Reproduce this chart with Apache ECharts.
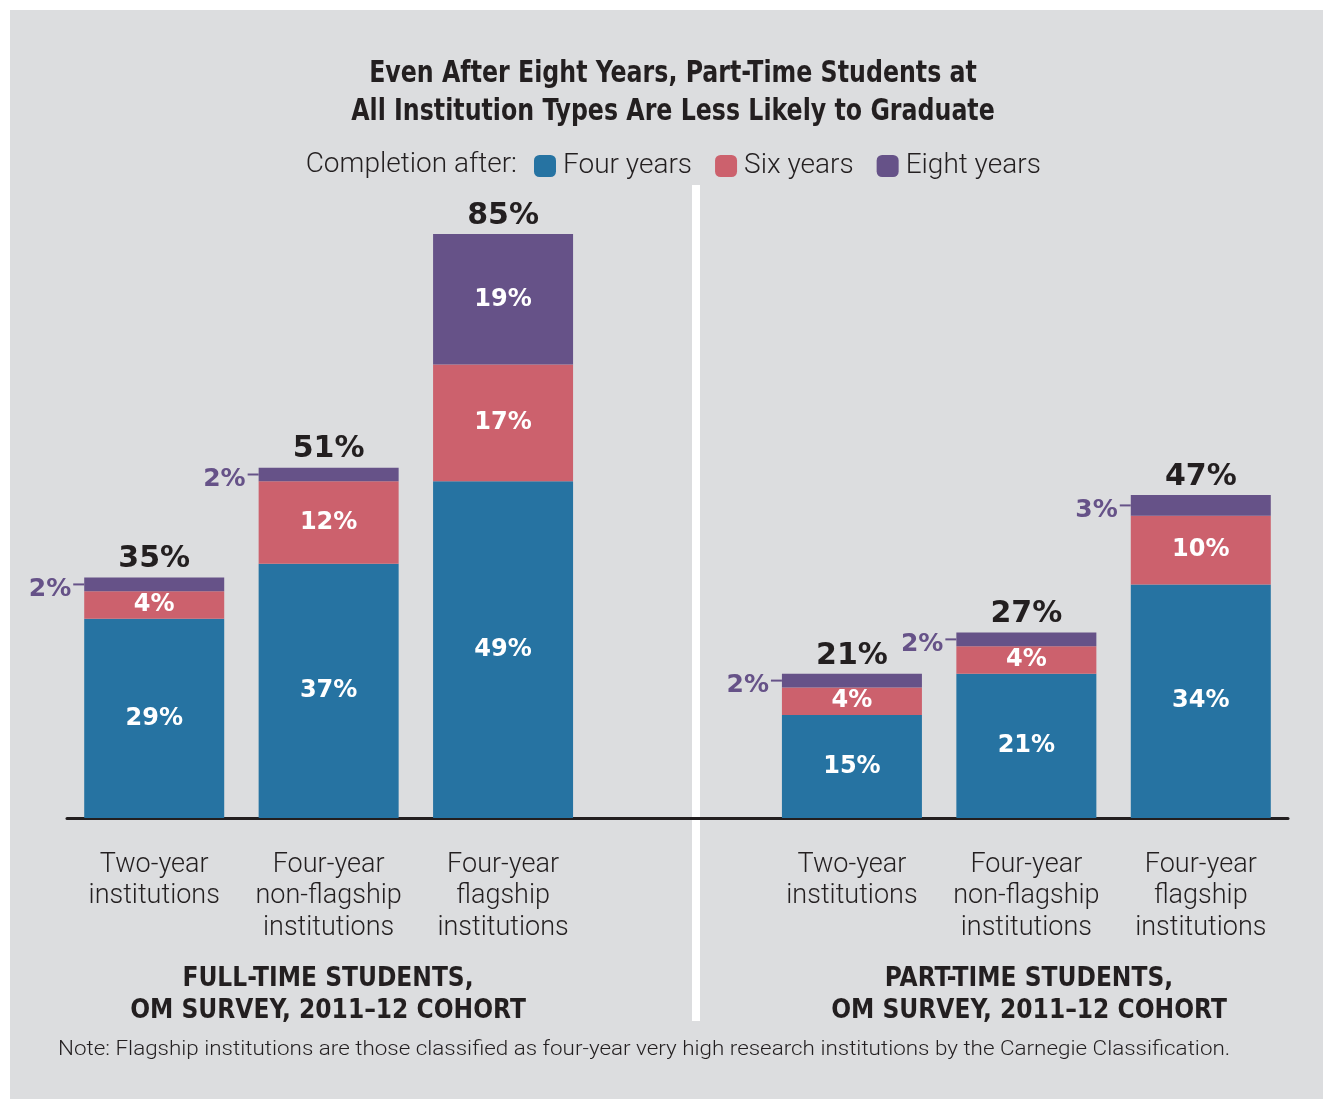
<!DOCTYPE html>
<html>
<head>
<meta charset="utf-8">
<script src="https://cdn.jsdelivr.net/npm/echarts@6/dist/echarts.min.js"></script>
<style>
html,body{margin:0;padding:0;background:#ffffff;}
#chart{width:1323px;height:1099px;}
</style>
</head>
<body>
<div id="chart"></div>
<script>
// ---- data ----
var categories = [
  'Two-year\ninstitutions',
  'Four-year\nnon-flagship\ninstitutions',
  'Four-year\nflagship\ninstitutions',
  '',
  'Two-year\ninstitutions',
  'Four-year\nnon-flagship\ninstitutions',
  'Four-year\nflagship\ninstitutions'
];
var fourYears  = [29, 37, 49, null, 15, 21, 34];
var sixYears   = [4, 12, 17, null, 4, 4, 10];
var eightYears = [2, 2, 19, null, 2, 2, 3];
var seriesNames = ['Four years', 'Six years', 'Eight years'];
var groupTitles = ['FULL-TIME STUDENTS,\nOM SURVEY, 2011\u201312 COHORT', 'PART-TIME STUDENTS,\nOM SURVEY, 2011\u201312 COHORT'];
var titleText = 'Even After Eight Years, Part-Time Students at\nAll Institution Types Are Less Likely to Graduate';
var noteText = 'Note: Flagship institutions are those classified as four-year very high research institutions by the Carnegie Classification.';

var totals = fourYears.map(function (v, i) {
  return v == null ? null : v + sixYears[i] + eightYears[i];
});

var BLUE = '#2673a2', RED = '#cc616d', PURPLE = '#665288', INK = '#231f20', BG = '#dcdddf';
var NUM_FONT = '"DejaVu Sans", Lato, sans-serif';
var TEXT_FONT = 'Roboto, Lato, sans-serif';
var COND = '"Liberation Sans Narrow", "DejaVu Sans Condensed", sans-serif';

var insideLabel = {
  show: true, position: 'inside', color: '#ffffff', fontWeight: 'bold',
  fontSize: 24, fontFamily: NUM_FONT,
  formatter: function (p) { return p.value + '%'; }
};

var eightData = eightYears.map(function (v) {
  if (v == null) return null;
  if (v < 5) {
    return {
      value: v,
      label: {
        show: true, position: 'left', distance: 0,
        formatter: '{p|' + v + '%}{d|}',
        rich: {
          p: { color: PURPLE, fontSize: 25, fontWeight: 'bold', fontFamily: NUM_FONT, padding: [10, 2, 0, 0] },
          d: { width: 11, height: 2, backgroundColor: PURPLE }
        }
      }
    };
  }
  return v;
});

var chart = echarts.init(document.getElementById('chart'));
chart.setOption({
  backgroundColor: '#ffffff',
  animation: false,
  legend: {
    data: seriesNames, left: 534, top: 152, padding: 0,
    itemWidth: 22, itemHeight: 22, itemGap: 23, icon: 'roundRect',
    textStyle: { fontFamily: TEXT_FONT, fontWeight: 300, fontSize: 28, color: INK, padding: [0, 0, 0, 2] }
  },
  grid: { left: 67, right: 35, top: 131, bottom: 281 },
  xAxis: {
    type: 'category', data: categories,
    axisLine: { lineStyle: { color: INK, width: 3 } },
    axisTick: { show: false },
    axisLabel: { interval: 0, margin: 31, fontSize: 27, lineHeight: 31.5, color: INK, fontFamily: TEXT_FONT, fontWeight: 300 }
  },
  yAxis: { type: 'value', min: 0, max: 100, show: false, splitLine: { show: false } },
  series: [
    { name: seriesNames[0], type: 'bar', stack: 'all', barWidth: 140, data: fourYears, itemStyle: { color: BLUE }, label: insideLabel },
    { name: seriesNames[1], type: 'bar', stack: 'all', barWidth: 140, data: sixYears, itemStyle: { color: RED }, label: insideLabel },
    { name: seriesNames[2], type: 'bar', stack: 'all', barWidth: 140, data: eightData, itemStyle: { color: PURPLE }, label: insideLabel },
    {
      name: 'Total', type: 'scatter', data: totals, symbolSize: 0, silent: true,
      itemStyle: { opacity: 1 },
      label: {
        show: true, position: 'top', distance: 3, color: INK, opacity: 1, fontSize: 30, fontWeight: 'bold', fontFamily: NUM_FONT,
        formatter: function (p) { return p.value + '%'; }
      }
    }
  ],
  graphic: [
    { type: 'rect', shape: { x: 10, y: 10, width: 1313, height: 1089 }, style: { fill: BG }, z: -100 },
    { type: 'rect', shape: { x: 692, y: 185, width: 8, height: 836 }, style: { fill: '#ffffff' }, z: -50 },
    { type: 'text', x: 673, y: 93, scaleX: 0.85, style: { text: titleText, fill: INK, font: 'bold 31px ' + COND, lineHeight: 38, textAlign: 'center', textVerticalAlign: 'middle' } },
    { type: 'text', x: 517, y: 165, style: { text: 'Completion after:', fill: INK, font: '300 28px Roboto, Lato, sans-serif', textAlign: 'right', textVerticalAlign: 'middle' } },
    { type: 'text', x: 328, y: 995, style: { text: groupTitles[0], fill: INK, font: 'bold 26px ' + COND, lineHeight: 32, textAlign: 'center', textVerticalAlign: 'middle' } },
    { type: 'text', x: 1029, y: 995, style: { text: groupTitles[1], fill: INK, font: 'bold 26px ' + COND, lineHeight: 32, textAlign: 'center', textVerticalAlign: 'middle' } },
    { type: 'text', x: 58, y: 1050, scaleX: 1.068, style: { text: noteText, fill: INK, font: '300 21px Roboto, Lato, sans-serif', textAlign: 'left', textVerticalAlign: 'middle' } }
  ]
});
</script>
</body>
</html>
